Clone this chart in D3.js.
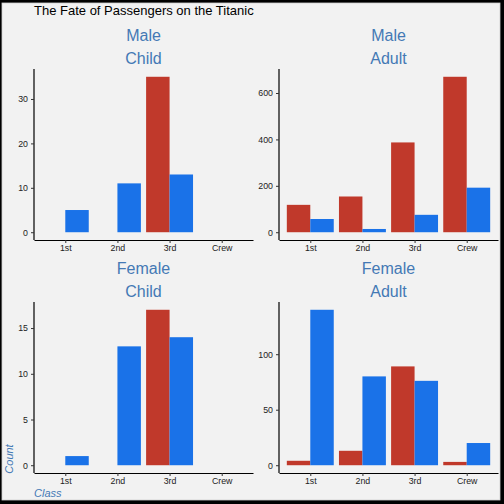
<!DOCTYPE html>
<html>
<head>
<meta charset="utf-8">
<script src="https://cdn.jsdelivr.net/npm/d3@7"></script>
<style>
  body { margin: 0; background: #000; }
  svg { display: block; font-family: "Liberation Sans", Arial, sans-serif; }
</style>
</head>
<body>
<div id="chart"></div>
<script>
// data: Titanic counts by class, per panel (sex x age)
const classes = ['1st', '2nd', '3rd', 'Crew'];
const panelSex = ['Male', 'Male', 'Female', 'Female'];
const panelAge = ['Child', 'Adult', 'Child', 'Adult'];
const diedCounts = [
  [0, 0, 35, 0],
  [118, 154, 387, 670],
  [0, 0, 17, 0],
  [4, 13, 89, 3]
];
const survivedCounts = [
  [5, 11, 13, 0],
  [57, 14, 75, 192],
  [1, 13, 14, 0],
  [140, 80, 76, 20]
];
const yTicks = [
  [0, 10, 20, 30],
  [0, 200, 400, 600],
  [0, 5, 10, 15],
  [0, 50, 100]
];

const W = 504, H = 504;
const colDied = '#c0392b', colSurv = '#1a72e8', stripCol = '#4479b5';

const svg = d3.select('#chart').append('svg')
  .attr('width', W)
  .attr('height', H);

svg.append('rect')
  .attr('x', 2).attr('y', 3)
  .attr('width', 498).attr('height', 497)
  .attr('fill', '#f2f2f2')
  .attr('stroke', '#d0d0d0')
  .attr('stroke-width', 0.8);

svg.append('text')
  .attr('x', 34).attr('y', 15)
  .attr('font-size', 13)
  .attr('fill', '#000')
  .text('The Fate of Passengers on the Titanic');

// panel frames (plot area edges)
const cols = [{l: 34, r: 253}, {l: 279, r: 498}];
const rows = [{t: 69, b: 240}, {t: 302, b: 473}];

panelSex.forEach(function(sex, i){
  const c = cols[i % 2], rw = rows[Math.floor(i / 2)];
  const died = diedCounts[i], surv = survivedCounts[i];
  const ymax = d3.max(died.concat(surv));

  const x = d3.scalePoint()
    .domain(classes)
    .range([c.l, c.r])
    .padding(0.6);
  const bw = x.step() * 0.45;

  const y = d3.scaleLinear()
    .domain([-0.05 * ymax, 1.05 * ymax])
    .range([rw.b, rw.t]);

  const g = svg.append('g').attr('class', 'panel');

  // strip labels
  const cx = (c.l + c.r) / 2;
  g.append('text')
    .attr('x', cx).attr('y', rw.t - 28)
    .attr('text-anchor', 'middle')
    .attr('font-size', 16)
    .attr('fill', stripCol)
    .text(sex);
  g.append('text')
    .attr('x', cx).attr('y', rw.t - 5.5)
    .attr('text-anchor', 'middle')
    .attr('font-size', 16)
    .attr('fill', stripCol)
    .text(panelAge[i]);

  const rows_ = classes.map(function(k, j){
    return {cls: k, died: died[j], surv: surv[j]};
  });

  g.selectAll('.died')
    .data(rows_.filter(d => d.died > 0))
    .enter().append('rect')
    .attr('class', 'died')
    .attr('x', d => x(d.cls) - bw)
    .attr('width', bw)
    .attr('y', d => y(d.died))
    .attr('height', d => y(0) - y(d.died))
    .attr('fill', colDied);

  g.selectAll('.surv')
    .data(rows_.filter(d => d.surv > 0))
    .enter().append('rect')
    .attr('class', 'surv')
    .attr('x', d => x(d.cls))
    .attr('width', bw)
    .attr('y', d => y(d.surv))
    .attr('height', d => y(0) - y(d.surv))
    .attr('fill', colSurv);

  const yAxis = g.append('g')
    .attr('transform', `translate(${c.l},0)`)
    .call(d3.axisLeft(y).tickValues(yTicks[i]).tickSize(3).tickPadding(3).tickSizeOuter(0));
  const xAxis = g.append('g')
    .attr('transform', `translate(0,${rw.b})`)
    .call(d3.axisBottom(x).tickSize(3).tickPadding(2).tickSizeOuter(0));

  [yAxis, xAxis].forEach(function(a){
    a.select('.domain').attr('stroke', '#000').attr('stroke-width', 1.2);
    a.selectAll('.tick line').attr('stroke', '#333').attr('stroke-width', 1);
    a.selectAll('.tick text')
      .attr('font-size', 8.8)
      .attr('fill', '#222')
      .attr('font-family', '"Liberation Sans", Arial, sans-serif');
  });
  // y axis line spans full panel height
  yAxis.select('.domain').attr('d', `M0,${rw.t}V${rw.b}`);
});

// axis titles
svg.append('text')
  .attr('transform', 'translate(13,459) rotate(-90)')
  .attr('text-anchor', 'middle')
  .attr('font-size', 11)
  .attr('font-style', 'italic')
  .attr('fill', stripCol)
  .text('Count');
svg.append('text')
  .attr('x', 34).attr('y', 497)
  .attr('font-size', 11)
  .attr('font-style', 'italic')
  .attr('fill', stripCol)
  .text('Class');
</script>
</body>
</html>
